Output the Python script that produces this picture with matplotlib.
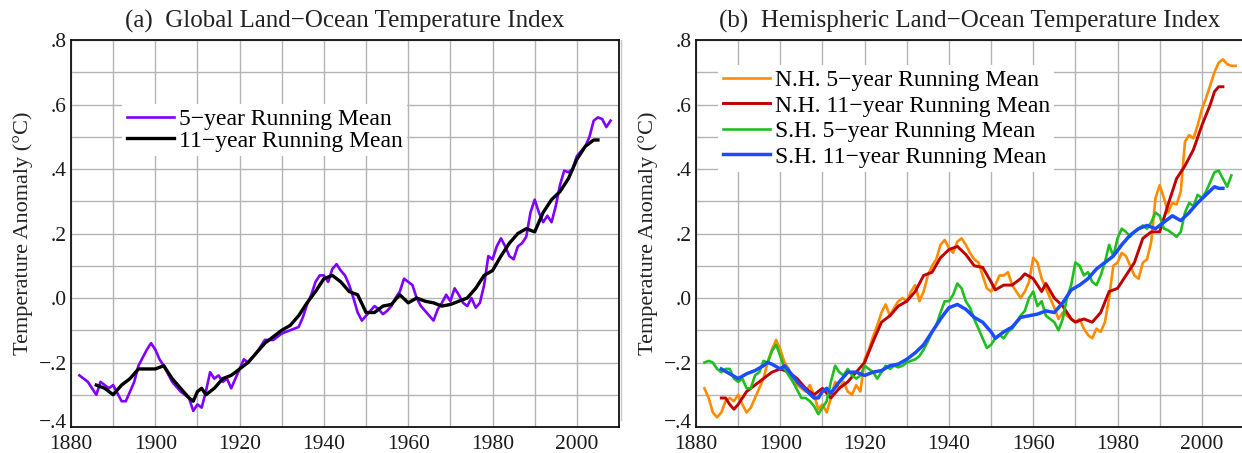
import numpy as np
import matplotlib
matplotlib.use("Agg")
import matplotlib.pyplot as plt
from matplotlib.ticker import MultipleLocator
from matplotlib.lines import Line2D
from matplotlib.transforms import ScaledTranslation

plt.rcParams['font.family'] = ['Liberation Serif', 'DejaVu Serif']

# ---- data (deg C anomalies) ----
glob5_yr = [1882, 1884, 1886, 1887, 1889, 1890, 1892, 1893, 1895, 1896, 1898, 1899, 1900, 1901, 1902, 1904,
            1906, 1907, 1908, 1909, 1910, 1911, 1912, 1913, 1914, 1915, 1916, 1917, 1918, 1919, 1920, 1921,
            1922, 1924, 1926, 1928, 1930, 1932, 1934, 1935, 1936, 1937, 1938, 1939, 1940, 1941, 1942, 1943,
            1944, 1945, 1946, 1947, 1948, 1949, 1950, 1951, 1952, 1953, 1954, 1955, 1956, 1957, 1958, 1959,
            1960, 1961, 1962, 1963, 1964, 1965, 1966, 1967, 1968, 1969, 1970, 1971, 1972, 1973, 1974, 1975,
            1976, 1977, 1978, 1979, 1980, 1981, 1982, 1983, 1984, 1985, 1986, 1987, 1988, 1989, 1990, 1991,
            1992, 1993, 1994, 1995, 1996, 1997, 1998, 1999, 2000, 2001, 2002, 2003, 2004, 2005, 2006, 2007, 2008]
glob5 = [-0.24, -0.26, -0.30, -0.26, -0.28, -0.27, -0.32, -0.32, -0.26, -0.21, -0.16, -0.14, -0.16, -0.19, -0.21, -0.26,
         -0.29, -0.30, -0.31, -0.35, -0.33, -0.34, -0.29, -0.23, -0.25, -0.24, -0.26, -0.25, -0.28, -0.25, -0.22, -0.19,
         -0.20, -0.17, -0.13, -0.13, -0.11, -0.10, -0.09, -0.06, -0.02, 0.01, 0.05, 0.07, 0.07, 0.05, 0.09, 0.105,
         0.085, 0.07, 0.04, 0.00, -0.045, -0.07, -0.055, -0.04, -0.025, -0.035, -0.05, -0.04, -0.025, 0.0, 0.02, 0.06,
         0.05, 0.04, 0.0, -0.025, -0.04, -0.055, -0.07, -0.035, -0.015, 0.01, -0.01, 0.03, 0.01, -0.015, -0.025, 0.0,
         -0.03, -0.015, 0.04, 0.13, 0.12, 0.16, 0.185, 0.16, 0.13, 0.12, 0.16, 0.17, 0.19, 0.265, 0.305, 0.265,
         0.235, 0.255, 0.235, 0.285, 0.35, 0.395, 0.39, 0.40, 0.44, 0.455, 0.47, 0.50, 0.55, 0.56, 0.555, 0.53, 0.55]

glob11_yr = [1886, 1888, 1890, 1892, 1894, 1896, 1898, 1900, 1902, 1904, 1906, 1908, 1909, 1910, 1911, 1912,
             1914, 1916, 1918, 1920, 1922, 1924, 1926, 1928, 1930, 1932, 1934, 1936, 1938, 1940, 1942, 1944,
             1946, 1948, 1950, 1952, 1954, 1956, 1958, 1960, 1962, 1964, 1966, 1968, 1970, 1972, 1974, 1976,
             1978, 1980, 1982, 1984, 1986, 1988, 1990, 1992, 1994, 1996, 1998, 2000, 2002, 2004, 2005]
glob11 = [-0.27, -0.28, -0.30, -0.27, -0.25, -0.22, -0.22, -0.22, -0.21, -0.25, -0.28, -0.31, -0.32, -0.29, -0.28, -0.30,
          -0.28, -0.25, -0.24, -0.22, -0.20, -0.17, -0.14, -0.12, -0.10, -0.085, -0.055, -0.015, 0.02, 0.06, 0.07, 0.05,
          0.02, 0.01, -0.045, -0.045, -0.025, -0.02, 0.01, -0.015, 0.0, -0.01, -0.015, -0.025, -0.02, -0.01, 0.0, 0.03,
          0.07, 0.085, 0.13, 0.17, 0.20, 0.215, 0.205, 0.265, 0.305, 0.33, 0.37, 0.43, 0.47, 0.49, 0.49]

nh5_yr = list(range(1882, 2009))
nh5 = [-0.28, -0.31, -0.355, -0.37, -0.355, -0.32, -0.31, -0.32, -0.30, -0.33, -0.355, -0.34, -0.31, -0.28, -0.25, -0.20,
       -0.16, -0.13, -0.16, -0.20, -0.22, -0.26, -0.27, -0.28, -0.29, -0.27, -0.30, -0.345, -0.33, -0.355, -0.31, -0.26,
       -0.28, -0.26, -0.29, -0.30, -0.27, -0.29, -0.19, -0.16, -0.12, -0.085, -0.045, -0.02, -0.055, -0.03, -0.01, 0.0,
       -0.01, 0.02, 0.04, -0.01, 0.02, 0.07, 0.10, 0.12, 0.165, 0.18, 0.155, 0.14, 0.175, 0.185, 0.165, 0.14,
       0.12, 0.11, 0.07, 0.03, 0.02, 0.04, 0.07, 0.07, 0.08, 0.04, 0.02, 0.0, 0.02, 0.05, 0.125, 0.11,
       0.06, 0.03, 0.0, -0.03, -0.065, -0.045, -0.055, -0.065, -0.075, -0.065, -0.095, -0.115, -0.125, -0.095, -0.105, -0.075,
       0.0, 0.10, 0.11, 0.14, 0.13, 0.10, 0.07, 0.06, 0.11, 0.12, 0.175, 0.31, 0.35, 0.31, 0.265, 0.295,
       0.29, 0.33, 0.485, 0.505, 0.495, 0.535, 0.585, 0.62, 0.66, 0.70, 0.73, 0.74, 0.725, 0.72, 0.72]

nh11_yr = [1886, 1887, 1888, 1889, 1890, 1892, 1894, 1896, 1898, 1900, 1902, 1904, 1906, 1908, 1910, 1912,
           1914, 1916, 1918, 1920, 1922, 1924, 1926, 1928, 1930, 1932, 1934, 1936, 1938, 1940, 1942, 1944,
           1946, 1948, 1950, 1951, 1953, 1955, 1957, 1958, 1960, 1962, 1963, 1965, 1967, 1969, 1970, 1972,
           1974, 1976, 1978, 1980, 1982, 1984, 1986, 1988, 1990, 1992, 1994, 1996, 1998, 2000, 2002, 2003,
           2004, 2005]
nh11 = [-0.31, -0.31, -0.33, -0.345, -0.33, -0.29, -0.27, -0.25, -0.23, -0.22, -0.23, -0.25, -0.28, -0.30, -0.28, -0.31,
        -0.28, -0.26, -0.23, -0.20, -0.135, -0.075, -0.055, -0.025, -0.01, 0.02, 0.07, 0.08, 0.125, 0.15, 0.16, 0.135,
        0.10, 0.095, 0.05, 0.025, 0.04, 0.04, 0.06, 0.075, 0.06, 0.02, 0.045, 0.0, -0.025, -0.065, -0.075, -0.065,
        -0.075, -0.045, 0.02, 0.03, 0.07, 0.11, 0.185, 0.205, 0.205, 0.29, 0.37, 0.41, 0.46, 0.535, 0.60, 0.64,
        0.655, 0.655]

sh5_yr = list(range(1882, 2008))
sh5 = [-0.20, -0.195, -0.20, -0.22, -0.23, -0.22, -0.22, -0.25, -0.26, -0.25, -0.28, -0.28, -0.24, -0.23, -0.195, -0.20,
       -0.165, -0.145, -0.18, -0.22, -0.24, -0.26, -0.285, -0.31, -0.31, -0.32, -0.335, -0.36, -0.34, -0.32, -0.26, -0.21,
       -0.23, -0.24, -0.22, -0.24, -0.25, -0.24, -0.21, -0.22, -0.23, -0.25, -0.23, -0.21, -0.22, -0.21, -0.215, -0.21,
       -0.20, -0.195, -0.19, -0.18, -0.16, -0.135, -0.105, -0.085, -0.045, -0.01, -0.01, 0.01, 0.045, 0.03, -0.01, -0.03,
       -0.065, -0.095, -0.125, -0.155, -0.145, -0.125, -0.115, -0.125, -0.105, -0.095, -0.075, -0.055, -0.04, 0.0, 0.02, -0.025,
       -0.01, -0.055, -0.065, -0.075, -0.10, -0.065, 0.0, 0.04, 0.11, 0.10, 0.07, 0.08, 0.05, 0.04, 0.07, 0.11,
       0.165, 0.13, 0.185, 0.215, 0.205, 0.19, 0.205, 0.215, 0.225, 0.215, 0.235, 0.265, 0.255, 0.215, 0.21, 0.20,
       0.19, 0.205, 0.265, 0.295, 0.285, 0.32, 0.31, 0.33, 0.36, 0.39, 0.395, 0.37, 0.345, 0.38]

sh11_yr = [1886, 1888, 1890, 1892, 1894, 1896, 1897, 1898, 1900, 1901, 1902, 1904, 1906, 1908, 1909, 1910,
           1911, 1912, 1914, 1916, 1918, 1920, 1922, 1924, 1926, 1928, 1930, 1932, 1934, 1936, 1938, 1940,
           1942, 1944, 1946, 1948, 1950, 1951, 1953, 1955, 1957, 1959, 1961, 1963, 1965, 1967, 1969, 1971,
           1973, 1975, 1977, 1979, 1981, 1983, 1985, 1987, 1989, 1991, 1993, 1995, 1997, 1999, 2001, 2003,
           2004, 2005]
sh11 = [-0.22, -0.235, -0.25, -0.235, -0.225, -0.21, -0.20, -0.205, -0.22, -0.21, -0.225, -0.26, -0.285, -0.31, -0.31, -0.29,
        -0.28, -0.295, -0.26, -0.23, -0.23, -0.24, -0.23, -0.225, -0.21, -0.205, -0.19, -0.17, -0.145, -0.105, -0.065, -0.03,
        -0.02, -0.035, -0.06, -0.075, -0.105, -0.125, -0.105, -0.09, -0.06, -0.055, -0.05, -0.04, -0.045, -0.015, 0.025, 0.04,
        0.06, 0.09, 0.11, 0.13, 0.165, 0.195, 0.215, 0.225, 0.215, 0.235, 0.255, 0.24, 0.265, 0.295, 0.32, 0.345,
        0.34, 0.34]

ytick_vals = [-0.4, -0.2, 0.0, 0.2, 0.4, 0.6, 0.8]
ytick_labels = ['\u2212.4', '\u2212.2', '.0', '.2', '.4', '.6', '.8']
xtick_vals = [1880, 1900, 1920, 1940, 1960, 1980, 2000]

W, H = 1242, 453
fig = plt.figure(figsize=(W / 100, H / 100), dpi=100)


def setup(ax, title):
    ax.set_xlim(1880, 2010)
    ax.set_ylim(-0.4, 0.8)
    ax.set_xticks(xtick_vals)
    ax.set_xticklabels([str(v) for v in xtick_vals])
    ax.set_yticks(ytick_vals)
    ax.set_yticklabels(ytick_labels)
    ax.xaxis.set_minor_locator(MultipleLocator(10))
    ax.yaxis.set_minor_locator(MultipleLocator(0.1))
    ax.grid(which='both', color='#b4b4b4', linewidth=1.0)
    ax.set_axisbelow(True)
    ax.tick_params(which='both', length=0, labelsize=15.5, colors='#1a1a1a')
    ax.tick_params(axis='y', pad=3)
    ax.tick_params(axis='x', pad=5.5)
    # nudge the bottom y label up a few pixels so it clears the year labels
    lab = ax.get_yticklabels()[0]
    lab.set_transform(lab.get_transform() + ScaledTranslation(0, 6 / 100, fig.dpi_scale_trans))
    for s in ax.spines.values():
        s.set_linewidth(1.3)
        s.set_color('#111111')
    ax.set_ylabel('Temperature Anomaly (\u00b0C)', fontsize=16, color='#222222', labelpad=4)
    ax.set_title(title, fontsize=18, color='#222222', pad=9)


leg_kw = dict(loc='upper left', fontsize=17, frameon=True, facecolor='white', edgecolor='none',
              framealpha=1, fancybox=False, handlelength=2.0, handletextpad=0.2,
              borderpad=0.2, borderaxespad=0)

ax1 = fig.add_axes([71 / W, 1 - 427 / H, 548 / W, 387 / H])
setup(ax1, '(a)  Global Land\u2212Ocean Temperature Index')
ax1.plot(glob5_yr, glob5, color='#7f00ff', lw=1.9, label='5\u2212year Running Mean')
ax1.plot(glob11_yr, glob11, color='#000000', lw=2.4, label='11\u2212year Running Mean')
ax1.legend(bbox_to_anchor=(0.093, 0.835), labelspacing=0.0, **leg_kw)

ax2 = fig.add_axes([696 / W, 1 - 427 / H, 548 / W, 387 / H])
setup(ax2, '(b)  Hemispheric Land\u2212Ocean Temperature Index')
ax2.plot(nh5_yr, nh5, color='#ff8c00', lw=1.9, label='N.H. 5\u2212year Running Mean')
ax2.plot(nh11_yr, nh11, color='#c00000', lw=2.1, label='N.H. 11\u2212year Running Mean')
ax2.plot(sh5_yr, sh5, color='#1fbf1f', lw=1.9, label='S.H. 5\u2212year Running Mean')
ax2.plot(sh11_yr, sh11, color='#1a4dff', lw=2.5, label='S.H. 11\u2212year Running Mean')
ax2.legend(bbox_to_anchor=(0.04, 0.936), labelspacing=0.17, **leg_kw)

# thin separator line at the right panel's left border
fig.add_artist(Line2D([621 / W, 621 / W], [1 - 420 / H, 1 - 40 / H], color='#c8c8c8', lw=1))

fig.savefig('out.png', dpi=100)
